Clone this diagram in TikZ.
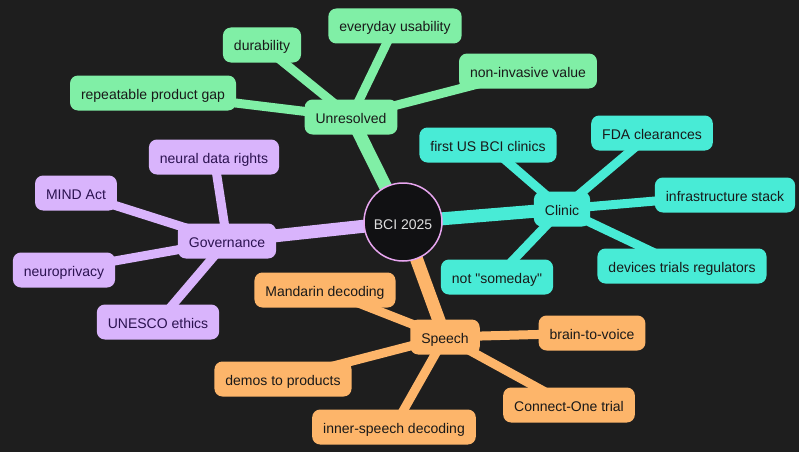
\documentclass[tikz,border=0pt]{standalone}
\usepackage{fontspec}
\newfontfamily\mapfont{Liberation Sans}
\usetikzlibrary{positioning}
\definecolor{bgdark}{HTML}{1E1E1E}
\definecolor{rootfill}{HTML}{111113}
\definecolor{rootring}{HTML}{E8A6F0}
\definecolor{unresgreen}{HTML}{80EFA6}
\definecolor{clinicteal}{HTML}{48EBD6}
\definecolor{govpurple}{HTML}{D9B4FC}
\definecolor{speechorange}{HTML}{FDB56A}
\definecolor{govtext}{HTML}{2B1250}
\pgfdeclarelayer{edgelayer}
\pgfsetlayers{edgelayer,main}

\begin{document}
\begin{tikzpicture}[x=1pt, y=-1pt, font=\mapfont\fontsize{14}{16}\selectfont,
    topic/.style={rounded corners=8pt, inner xsep=11pt, minimum height=35pt,
        text height=13pt, text depth=1pt, text=black!90},
    root/.style={circle, minimum size=78pt, fill=rootfill, draw=rootring,
        line width=1.5pt, text=white!88!black, text height=14pt, text depth=0pt},
    trunk/.style={line width=13pt},
    twig/.style={line width=9pt}]

    \useasboundingbox (0,0) rectangle (799,452);

    % centre and the four branches
    \node[root] (bci) at (403,222) {BCI 2025};
    \node[topic, fill=unresgreen] (unres) at (351,117) {Unresolved};
    \node[topic, fill=clinicteal] (clinic) at (562,209) {Clinic};
    \node[topic, fill=govpurple, text=govtext] (gov) at (227,241) {Governance};
    \node[topic, fill=speechorange] (speech) at (445,337) {Speech};

    % leaves
    \foreach \Name/\X/\Y/\Text in {dur/262/45/durability, every/395/26/everyday usability,
        noninv/528/71/non-invasive value, repeat/153/93/repeatable product gap}
        \node[topic, fill=unresgreen] (\Name) at (\X,\Y) {\Text};

    \foreach \Name/\X/\Y/\Text in {firstus/488/145/first US BCI clinics, fda/652/133/FDA clearances,
        infra/725/195/infrastructure stack, devices/682/266/devices trials regulators,
        someday/497/277/{not "someday"}}
        \node[topic, fill=clinicteal] (\Name) at (\X,\Y) {\Text};

    \foreach \Name/\X/\Y/\Text in {rights/214/157/neural data rights, mind/76/193/MIND Act,
        privacy/64/270/neuroprivacy, unesco/158/322/UNESCO ethics}
        \node[topic, fill=govpurple, text=govtext] (\Name) at (\X,\Y) {\Text};

    \foreach \Name/\X/\Y/\Text in {mandarin/325/290/Mandarin decoding, voice/592/333/brain-to-voice,
        demos/283/379/demos to products, connect/569/405/Connect-One trial,
        inner/394/427/inner-speech decoding}
        \node[topic, fill=speechorange] (\Name) at (\X,\Y) {\Text};

    % connectors, under the nodes
    \begin{pgfonlayer}{edgelayer}
        \fill[bgdark] (0,0) rectangle (799,452);
        \draw[trunk, unresgreen] (bci.center) -- (unres.center);
        \draw[trunk, clinicteal] (bci.center) -- (clinic.center);
        \draw[trunk, govpurple] (bci.center) -- (gov.center);
        \draw[trunk, speechorange] (bci.center) -- (speech.center);
        \foreach \Leaf in {dur, every, noninv, repeat}
            \draw[twig, unresgreen] (unres.center) -- (\Leaf.center);
        \foreach \Leaf in {firstus, fda, infra, devices, someday}
            \draw[twig, clinicteal] (clinic.center) -- (\Leaf.center);
        \foreach \Leaf in {rights, mind, privacy, unesco}
            \draw[twig, govpurple] (gov.center) -- (\Leaf.center);
        \foreach \Leaf in {mandarin, voice, demos, connect, inner}
            \draw[twig, speechorange] (speech.center) -- (\Leaf.center);
    \end{pgfonlayer}

\end{tikzpicture}
\end{document}
